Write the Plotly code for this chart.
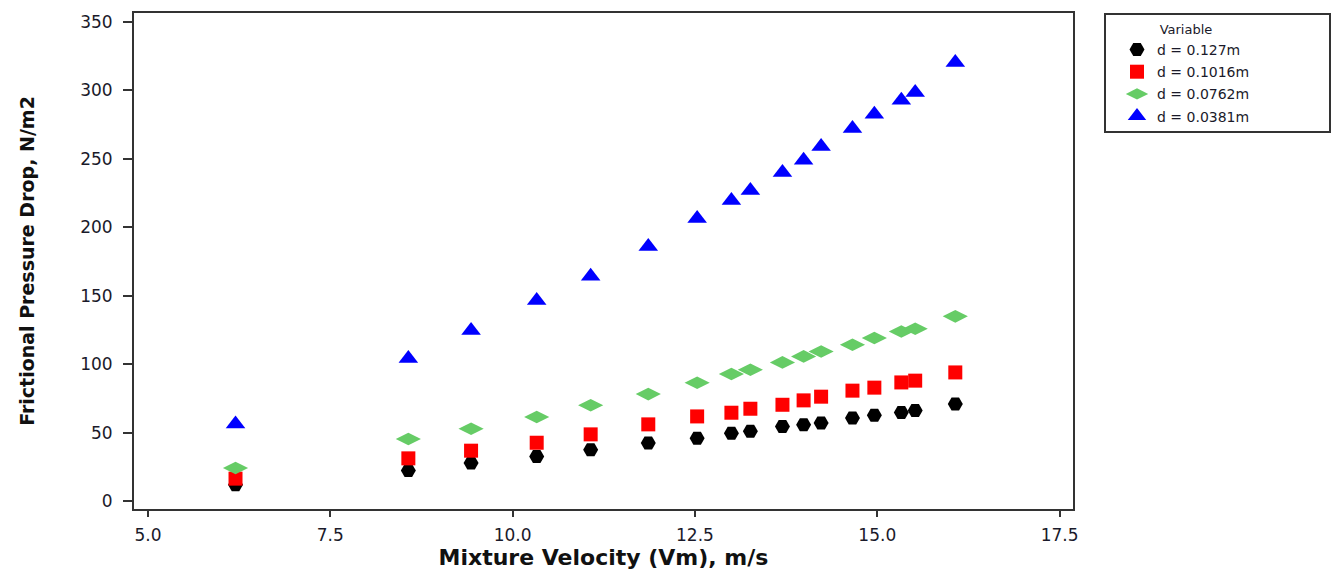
import plotly.graph_objects as go

# ---- data ----
velocity = [6.20, 8.57, 9.43, 10.33, 11.07, 11.86, 12.53, 13.00, 13.26,
            13.70, 13.99, 14.23, 14.66, 14.96, 15.33, 15.52, 16.07]

dp_0127 = [12.2, 22.6, 28.0, 32.8, 37.7, 42.6, 46.1, 49.7, 51.1,
           54.7, 56.0, 57.2, 60.8, 62.8, 64.9, 66.4, 71.1]
dp_01016 = [16.6, 31.4, 37.0, 42.8, 48.9, 56.2, 62.0, 64.7, 67.6,
            70.5, 73.7, 76.4, 80.8, 83.0, 86.8, 88.1, 94.1]
dp_00762 = [24.4, 45.5, 53.0, 61.6, 70.1, 78.3, 86.6, 92.9, 96.1,
            101.4, 105.8, 109.4, 114.3, 119.2, 124.0, 126.0, 135.0]
dp_00381 = [56.4, 104.3, 124.6, 146.5, 164.2, 185.9, 206.5, 219.5, 226.8,
            240.0, 248.9, 259.0, 272.1, 282.4, 292.6, 298.4, 320.2]

series_names = ["d = 0.127m", "d = 0.1016m", "d = 0.0762m", "d = 0.0381m"]
series_values = [dp_0127, dp_01016, dp_00762, dp_00381]
series_colors = ["#000000", "#FF0000", "#66CC66", "#0000FF"]
series_symbols = ["hexagon2", "square", "diamond-wide", "triangle-up"]
series_sizes = [15, 14, 18, 17]

x_ticks = [5.0, 7.5, 10.0, 12.5, 15.0, 17.5]
y_ticks = [0, 50, 100, 150, 200, 250, 300, 350]

W, H = 1334, 573
L, R, T, B = 134, 1073, 13, 509

fig = go.Figure()
for i, (name, vals, col, sym, sz) in enumerate(zip(series_names, series_values,
                                                   series_colors, series_symbols, series_sizes)):
    fig.add_trace(go.Scatter(
        x=velocity, y=vals, mode="markers", name=name, legendgroup=f"g{i}",
        marker=dict(symbol=sym, size=sz, color=col, line=dict(width=0)),
    ))

axis_col = "#333333"
txt_col = "#1a1a2a"

fig.update_layout(
    width=W, height=H,
    margin=dict(l=L, r=W - R, t=T, b=H - B, autoexpand=False),
    paper_bgcolor="white", plot_bgcolor="white",
    font=dict(family="DejaVu Sans", color=txt_col),
    showlegend=True,
    legend=dict(
        x=(1117 - L) / (R - L), xanchor="left",
        y=(B - 17) / (B - T), yanchor="top",
        bgcolor="rgba(0,0,0,0)", borderwidth=0,
        font=dict(family="DejaVu Sans", size=14, color=txt_col),
        title=dict(text="Variable", side="top center",
                   font=dict(family="DejaVu Sans", size=13, color=txt_col)),
        tracegroupgap=1,
        itemsizing="trace",
    ),
    shapes=[dict(type="rect", xref="paper", yref="paper",
                 x0=(1105 - L) / (R - L), x1=(1330 - L) / (R - L),
                 y0=(B - 132) / (B - T), y1=(B - 14) / (B - T),
                 line=dict(color=axis_col, width=2), fillcolor="rgba(0,0,0,0)")],
)

fig.update_xaxes(
    range=[4.808, 17.684], tickvals=x_ticks, ticktext=[f"{v:.1f}" for v in x_ticks],
    showgrid=False, zeroline=False,
    showline=True, linecolor=axis_col, linewidth=2, mirror=True,
    ticks="outside", ticklen=6, tickwidth=2, tickcolor=axis_col,
    tickfont=dict(family="DejaVu Sans", size=17, color=txt_col),
    ticklabelstandoff=4,
    title=dict(text="Mixture Velocity (Vm), m/s", standoff=5,
               font=dict(family="DejaVu Sans", size=22, color="#111111", weight="bold")),
)
fig.update_yaxes(
    range=[-5.55, 356.35], tickvals=y_ticks, ticktext=[str(v) for v in y_ticks],
    showgrid=False, zeroline=False,
    showline=True, linecolor=axis_col, linewidth=2, mirror=True,
    ticks="outside", ticklen=9, tickwidth=2, tickcolor=axis_col,
    tickfont=dict(family="DejaVu Sans", size=17, color=txt_col),
    ticklabelstandoff=7,
    title=dict(text="Frictional Pressure Drop, N/m2", standoff=40,
               font=dict(family="DejaVu Sans", size=19, color="#111111", weight="bold")),
)

fig.write_html("out.html")
